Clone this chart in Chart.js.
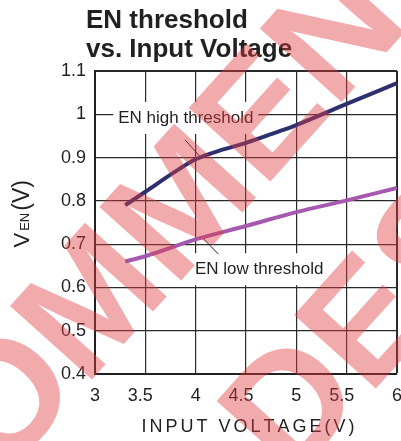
<!DOCTYPE html>
<html><head><meta charset="utf-8">
<script src="https://cdn.jsdelivr.net/npm/chart.js@4/dist/chart.umd.min.js"></script>
<style>html,body{margin:0;padding:0;background:#fff;overflow:hidden}#wrap{width:401px;height:441px;position:relative}</style>
</head><body><div id="wrap"><canvas id="c" width="401" height="441"></canvas></div>
<script>
// ---- data ----
const titleLines = ['EN threshold', 'vs. Input Voltage'];
const xTitle = 'INPUT VOLTAGE(V)';
const yTitleMain = 'V', yTitleSub = 'EN', yTitleUnit = '(V)';
const xTickValues = [3, 3.5, 4, 4.5, 5, 5.5, 6];
const xTickLabels = ['3', '3.5', '4', '4.5', '5', '5.5', '6'];
const yTickLabels = ['0.4', '0.5', '0.6', '0.7', '0.8', '0.9', '1', '1.1'];
const vinHigh = [3.3, 3.5, 3.8, 4.0, 4.25, 4.5, 4.75, 5.0, 5.5, 6.0];
const enHigh = [0.790, 0.821, 0.868, 0.896, 0.917, 0.934, 0.954, 0.975, 1.024, 1.072];
const vinLow = [3.3, 3.5, 4.0, 4.5, 5.0, 5.5, 6.0];
const enLow = [0.660, 0.672, 0.711, 0.742, 0.774, 0.801, 0.830];
const highLabel = 'EN high threshold', lowLabel = 'EN low threshold';
// annotation anchors in data units: [textX, textBaselineY, leaderX1, leaderY1, leaderX2, leaderY2]
const highAnno = [3.231, 0.980, 3.894, 0.941, 4.060, 0.898];
const lowAnno = [3.993, 0.6305, 4.060, 0.717, 4.225, 0.677];
const watermarkLines = ['RECOMMENDED', 'FOR NEW DESIGN'];

const FONT = '"Liberation Sans", Arial, Helvetica, sans-serif';
const INK = '#231f20';

const decor = {
  id: 'decor',
  beforeDatasetsDraw(chart) {
    const c = chart.ctx, xs = chart.scales.x, ys = chart.scales.y;
    c.save();
    c.font = '17px ' + FONT;
    c.textBaseline = 'alphabetic';
    c.textAlign = 'left';
    [[highLabel, highAnno], [lowLabel, lowAnno]].forEach(([txt, a]) => {
      const tx = xs.getPixelForValue(a[0]), ty = ys.getPixelForValue(a[1]);
      const w = c.measureText(txt).width;
      c.fillStyle = '#fff';
      c.fillRect(tx - 5, ty - 21, w + 10, 32);
      c.fillStyle = INK;
      c.fillText(txt, tx, ty);
      c.strokeStyle = INK; c.lineWidth = 1;
      c.beginPath();
      c.moveTo(xs.getPixelForValue(a[2]), ys.getPixelForValue(a[3]));
      c.lineTo(xs.getPixelForValue(a[4]), ys.getPixelForValue(a[5]));
      c.stroke();
    });
    c.restore();
  },
  afterDraw(chart) {
    const c = chart.ctx, ca = chart.chartArea;
    c.save();
    c.fillStyle = INK;
    // title
    c.font = 'bold 26px ' + FONT;
    c.textAlign = 'left'; c.textBaseline = 'alphabetic';
    c.fillText(titleLines[0], 86, 27.5);
    c.fillText(titleLines[1], 86, 57);
    // x title with letter spacing
    c.font = '18px ' + FONT;
    const chars = xTitle.split('');
    const nat = chars.reduce((s, ch) => s + c.measureText(ch).width, 0);
    const total = 213;
    const sp = (total - nat) / (chars.length - 1);
    let x = (ca.left + ca.right) / 2 - total / 2 + 2;
    chars.forEach(ch => { c.fillText(ch, x, 431.5); x += c.measureText(ch).width + sp; });
    // y title rotated
    c.translate(28.5, 247.5);
    c.rotate(-Math.PI / 2);
    let p = 0;
    c.font = '22px ' + FONT; c.fillText(yTitleMain, p, 0); p += c.measureText(yTitleMain).width + 2;
    c.font = '13px ' + FONT; c.fillText(yTitleSub, p, 0); p += c.measureText(yTitleSub).width + 2;
    c.font = '23px ' + FONT; c.fillText(yTitleUnit, p, 0);
    c.restore();
    // watermark
    c.save();
    c.fillStyle = 'rgba(225,60,65,0.43)';
    c.font = 'bold 160px ' + FONT;
    c.translate(-224.5, 731);
    c.rotate(-48 * Math.PI / 180);
    c.fillText(watermarkLines[0], 0, 0);
    c.fillText(watermarkLines[1], -270, 217);
    c.restore();
  }
};

const ctx = document.getElementById('c').getContext('2d');
new Chart(ctx, {
  type: 'line',
  data: {
    datasets: [
      { label: highLabel, data: vinHigh.map((x, i) => ({ x, y: enHigh[i] })), borderColor: '#2e2f6f',
        borderWidth: 4, pointRadius: 0, tension: 0.4, cubicInterpolationMode: 'monotone', fill: false },
      { label: lowLabel, data: vinLow.map((x, i) => ({ x, y: enLow[i] })), borderColor: '#a558ae',
        borderWidth: 4, pointRadius: 0, tension: 0.4, cubicInterpolationMode: 'monotone', fill: false }
    ]
  },
  options: {
    responsive: false, animation: false,
    layout: { padding: { top: 71, right: 4, left: 0, bottom: 0 } },
    plugins: { legend: { display: false }, tooltip: { enabled: false }, title: { display: false } },
    scales: {
      x: {
        type: 'linear', min: 3, max: 6,
        afterBuildTicks: s => { s.ticks = xTickValues.map(v => ({ value: v })); },
        ticks: {
          autoSkip: false, maxRotation: 0, padding: 11, color: INK,
          font: { family: FONT, size: 18 },
          callback: (v, i) => { const l = xTickLabels[i]; return l.indexOf('.') >= 0 ? l + '  ' : l; }
        },
        grid: { color: '#2a2a2a', drawTicks: false, lineWidth: c => (c.tick && c.tick.value === 6) ? 2 : 1.2 },
        border: { display: true, color: INK, width: 2 },
        title: { display: false },
        afterFit: s => { s.height = 67; s.paddingLeft = 0; s.paddingRight = 0; }
      },
      y: {
        min: 0.4, max: 1.1,
        ticks: { stepSize: 0.1, padding: 9, color: INK, font: { family: FONT, size: 18 },
          callback: (v, i) => yTickLabels[i] },
        grid: { color: '#2a2a2a', drawTicks: false, lineWidth: c => (c.index === yTickLabels.length - 1) ? 2 : 1.2 },
        border: { display: true, color: INK, width: 2 },
        title: { display: false },
        afterFit: s => { s.width = 95; s.paddingTop = 0; s.paddingBottom = 0; }
      }
    }
  },
  plugins: [decor]
});
</script></body></html>
